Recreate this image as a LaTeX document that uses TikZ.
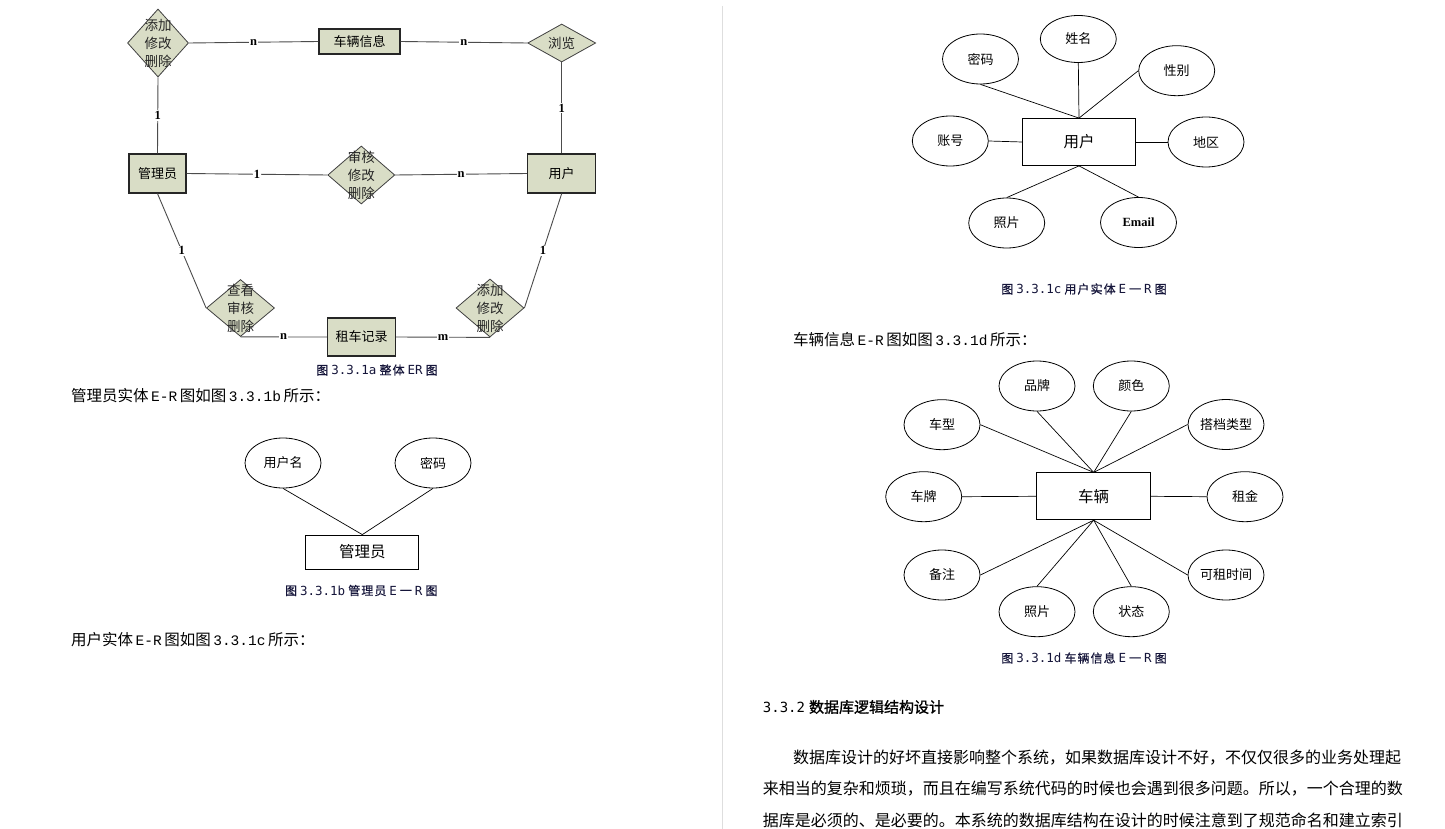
\documentclass[tikz,border=0pt]{standalone}
\usepackage{fontspec}
\usetikzlibrary{shapes.geometric}
\setmainfont{Noto Sans CJK SC}
\newfontfamily\cjk{Noto Sans CJK SC}
\newfontfamily\cjkb[FakeBold=1.2]{Noto Sans CJK SC}
\newfontfamily\capf[LetterSpace=9,FakeBold=0.6]{Noto Sans CJK SC}
\newfontfamily\monof{Liberation Mono}
\newfontfamily\smono{DejaVu Sans Mono}
\newfontfamily\serf{Liberation Serif}
\definecolor{sage}{HTML}{D9DDC6}
\definecolor{capcol}{HTML}{15153A}
\newcommand\Lt[1]{\hspace{2.5pt}{\monof\fontsize{14.5}{14.5}\selectfont #1}\hspace{2.5pt}}
\newcommand\Ct[1]{\hspace{3pt}{\smono\fontsize{12.5}{12.5}\selectfont #1}\hspace{3pt}}
\begin{document}
\begin{tikzpicture}[x=1pt,y=-1pt,
  ent/.style={draw=black!85, line width=1.2pt, fill=sage, inner sep=0, font=\cjk\fontsize{13}{13}\selectfont},
  dia/.style={diamond, draw=black!75, line width=0.8pt, fill=sage, inner sep=0},
  diatxt/.style={align=center, inner sep=0, text=black!85, font=\cjk\fontsize{13.5}{18}\selectfont},
  card/.style={fill=white, inner sep=1pt, font=\serf\bfseries\fontsize{12.5}{12.5}\selectfont},
  conn/.style={draw=black!70, line width=0.9pt},
  attr/.style={ellipse, draw, line width=0.8pt, minimum width=76, minimum height=50, inner sep=0, font=\cjk\fontsize{13}{13}\selectfont},
  box/.style={draw, line width=0.8pt, inner sep=0, font=\cjk\fontsize{15.5}{15.5}\selectfont},
  lnk/.style={draw, line width=0.7pt},
  captxt/.style={inner sep=0, text=capcol, font=\capf\fontsize{12}{12}\selectfont},
  body/.style={anchor=west, inner sep=0, font=\cjk\fontsize{15.5}{15.5}\selectfont},
  para/.style={anchor=west, inner sep=0, font=\cjk\fontsize{16}{16}\selectfont}]
\useasboundingbox (0,0) rectangle (1445,829);
\fill[white] (0,0) rectangle (1445,829);
\draw[line width=1pt, draw=black!13] (722,6) -- (722,829);

% ---------- 3.3.1a ----------
\node[dia, minimum width=61, minimum height=68] (d1) at (158,43) {};
\node[ent, minimum width=81, minimum height=25] (cl) at (359.5,41.5) {车辆信息};
\node[dia, minimum width=68, minimum height=38] (ll) at (561.7,43) {};
\node[ent, minimum width=57, minimum height=39] (gl) at (157.5,173.5) {管理员};
\node[ent, minimum width=68, minimum height=39] (yh) at (561.7,173.5) {用户};
\node[dia, minimum width=67, minimum height=58] (d2) at (361.3,175) {};
\node[dia, minimum width=68, minimum height=57] (d3) at (240.5,308) {};
\node[ent, minimum width=68, minimum height=38] (zc) at (361.5,337) {租车记录};
\node[dia, minimum width=68, minimum height=58] (d4) at (490,308) {};

\draw[conn] (d1.east) -- node[card]{n} (cl.west);
\draw[conn] (cl.east) -- node[card]{n} (ll.west);
\draw[conn] (d1.south) -- node[card]{1} (gl.north);
\draw[conn] (ll.south) -- node[card]{1} (yh.north);
\draw[conn] (gl.east) -- node[card]{1} (d2.west);
\draw[conn] (d2.east) -- node[card]{n} (yh.west);
\draw[conn] (gl.south) -- node[card]{1} (d3.west);
\draw[conn] (d3.south) -- node[card]{n} (zc.west);
\draw[conn] (zc.east) -- node[card]{m} (d4.south);
\draw[conn] (d4.east) -- node[card]{1} (yh.south);

\node[diatxt] (t1) at (d1) {添加\\修改\\删除};
\node[diatxt] (t2) at (ll) {浏览};
\node[diatxt] (t3) at (d2) {审核\\修改\\删除};
\node[diatxt] (t4) at (d3) {查看\\审核\\删除};
\node[diatxt] (t5) at (d4) {添加\\修改\\删除};

\node[captxt] (c1) at (377,370) {图\Ct{3.3.1a}整体\Ct{ER}图};

% ---------- text left ----------
\node[body] (s1) at (71,396) {管理员实体\Lt{E-R}图如图\Lt{3.3.1b}所示：};

% ---------- 3.3.1b ----------
\node[attr] (bun) at (283,463) {用户名};
\node[attr] (bpw) at (433,463) {密码};
\node[box, minimum width=113, minimum height=34] (badm) at (362.3,552) {管理员};
\draw[lnk] (bun.south) -- (badm.north);
\draw[lnk] (bpw.south) -- (badm.north);
\node[captxt] (c2) at (361.3,590.5) {图\Ct{3.3.1b}管理员\Ct{E}一\Ct{R}图};

\node[body] (s2) at (71,640) {用户实体\Lt{E-R}图如图\Lt{3.3.1c}所示：};

% ---------- 3.3.1c ----------
\node[box, minimum width=113, minimum height=47] (ue) at (1079,142) {用户};
\node[attr, minimum height=47] (uxm) at (1078.3,39) {姓名};
\node[attr] (umm) at (980.5,59) {密码};
\node[attr] (uxb) at (1176.7,70.7) {性别};
\node[attr] (uzh) at (950.3,141) {账号};
\node[attr] (udq) at (1206,142) {地区};
\node[attr] (uzp) at (1006.7,223) {照片};
\node[attr, font=\serf\bfseries\fontsize{12.5}{12.5}\selectfont] (uem) at (1138.5,222.5) {Email};
\draw[lnk] (ue.north) -- (umm.south);
\draw[lnk] (ue.north) -- (uxm.south);
\draw[lnk] (ue.north) -- (uxb.west);
\draw[lnk] (uzh.east) -- (ue.west);
\draw[lnk] (ue.east) -- (udq.west);
\draw[lnk] (ue.south) -- (uzp.north);
\draw[lnk] (ue.south) -- (uem.north);
\node[captxt] (c3) at (1084,289) {图\Ct{3.3.1c}用户实体\Ct{E}一\Ct{R}图};

\node[body] (s3) at (793,340) {车辆信息\Lt{E-R}图如图\Lt{3.3.1d}所示：};

% ---------- 3.3.1d ----------
\node[box, minimum width=114, minimum height=47] (ve) at (1093.7,496.3) {车辆};
\node[attr] (vpp) at (1037,386) {品牌};
\node[attr] (vys) at (1131.3,386) {颜色};
\node[attr] (vcx) at (942,424.7) {车型};
\node[attr] (vdd) at (1226,424.5) {搭档类型};
\node[attr] (vcp) at (923.7,496.7) {车牌};
\node[attr] (vzj) at (1245,496.7) {租金};
\node[attr] (vbz) at (942,575) {备注};
\node[attr] (vks) at (1226,575) {可租时间};
\node[attr] (vzp) at (1037,611.7) {照片};
\node[attr] (vzt) at (1131.3,611.7) {状态};
\draw[lnk] (ve.north) -- (vcx.east);
\draw[lnk] (ve.north) -- (vpp.south);
\draw[lnk] (ve.north) -- (vys.south);
\draw[lnk] (ve.north) -- (vdd.west);
\draw[lnk] (vcp.east) -- (ve.west);
\draw[lnk] (ve.east) -- (vzj.west);
\draw[lnk] (ve.south) -- (vbz.east);
\draw[lnk] (ve.south) -- (vzp.north);
\draw[lnk] (ve.south) -- (vzt.north);
\draw[lnk] (ve.south) -- (vks.west);
\node[captxt] (c4) at (1084,658) {图\Ct{3.3.1d}车辆信息\Ct{E}一\Ct{R}图};

% ---------- 3.3.2 ----------
\node[anchor=west, inner sep=0, font=\cjkb\fontsize{15}{15}\selectfont] (h1) at (762.7,707) {{\smono\fontsize{14}{14}\selectfont 3.3.2}\hspace{4pt}数据库逻辑结构设计};
\node[para] (p1) at (793,758) {数据库设计的好坏直接影响整个系统，如果数据库设计不好，不仅仅很多的业务处理起};
\node[para] (p2) at (762.7,789) {来相当的复杂和烦琐，而且在编写系统代码的时候也会遇到很多问题。所以，一个合理的数};
\node[para] (p3) at (762.7,820) {据库是必须的、是必要的。本系统的数据库结构在设计的时候注意到了规范命名和建立索引};
\end{tikzpicture}
\end{document}
